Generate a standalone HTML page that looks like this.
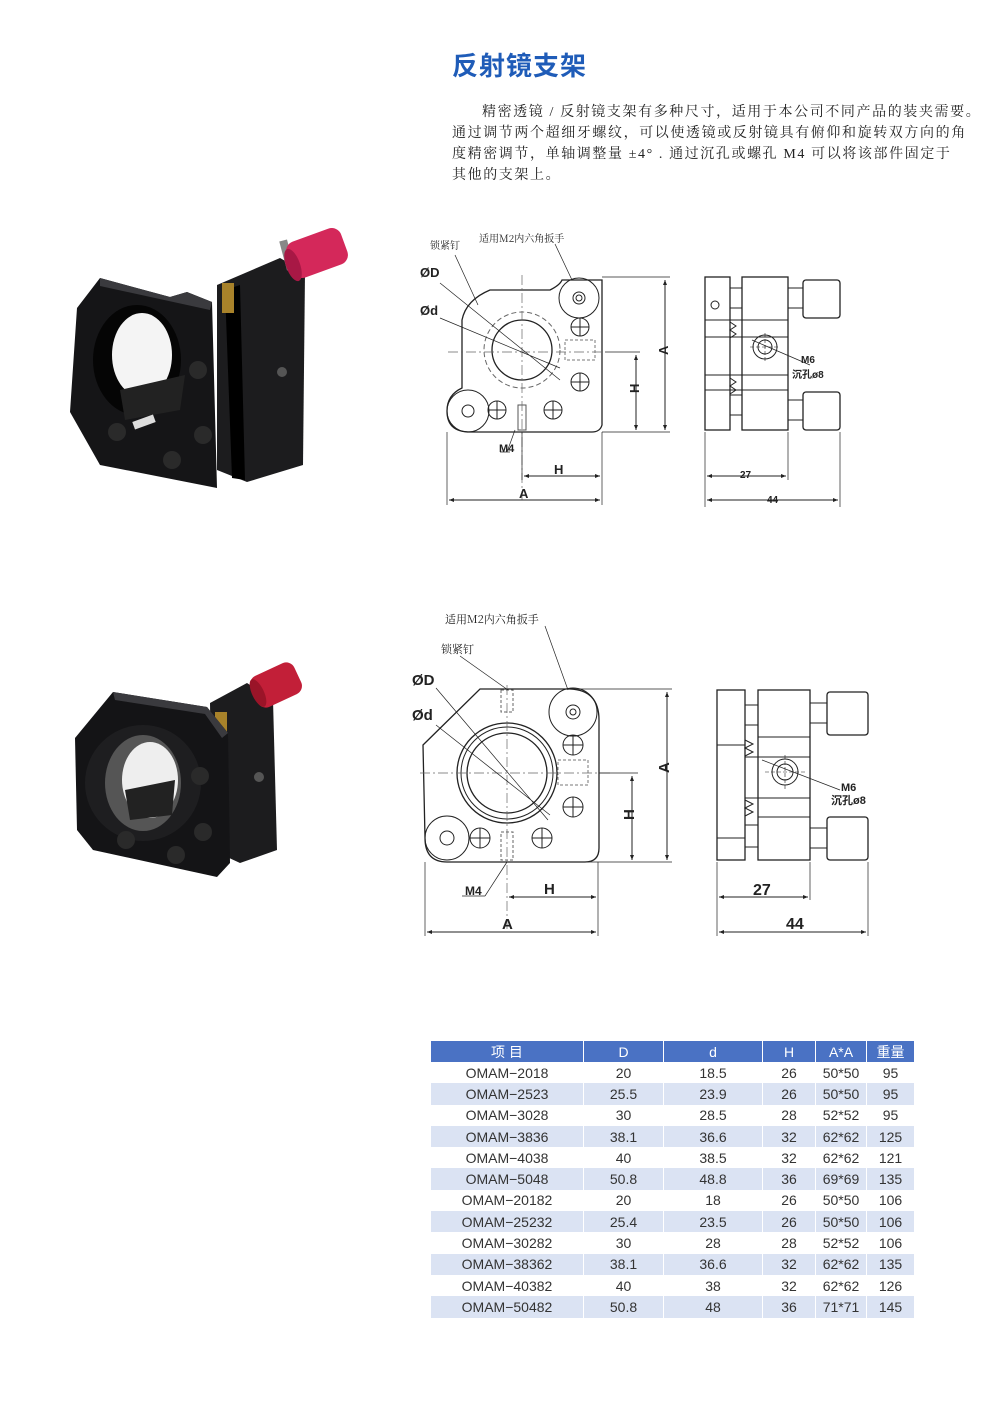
<!DOCTYPE html>
<html><head><meta charset="utf-8"><style>
html,body{margin:0;padding:0;background:#fff;}
body{width:1000px;height:1414px;position:relative;overflow:hidden;font-family:"Liberation Sans","Noto Sans CJK SC",sans-serif;}
.t{position:absolute;left:452px;top:46px;font-size:26px;font-weight:bold;color:#1f5cb8;font-family:"Liberation Sans","Noto Sans CJK SC",sans-serif;letter-spacing:1px;}
.p{position:absolute;left:452px;font-size:14px;color:#222;font-family:"Liberation Serif","Noto Serif CJK SC",serif;white-space:nowrap;letter-spacing:1.6px;}
table{position:absolute;left:430px;top:1041px;border-collapse:collapse;font-size:14px;color:#333;}
td{height:21.3px;padding:0;text-align:center;border-left:1px solid #fff;}
tr.h td{background:#4a72c4;color:#fff;height:21px;}
tr.b td{background:#dbe3f3;}
svg{position:absolute;left:0;top:0;}
</style></head><body>
<div class="t">反射镜支架</div>
<div class="p" style="top:101px;left:482px">精密透镜 / 反射镜支架有多种尺寸，适用于本公司不同产品的装夹需要。</div>
<div class="p" style="top:122px">通过调节两个超细牙螺纹，可以使透镜或反射镜具有俯仰和旋转双方向的角</div>
<div class="p" style="top:143px">度精密调节，单轴调整量 ±4° . 通过沉孔或螺孔 M4 可以将该部件固定于</div>
<div class="p" style="top:164px">其他的支架上。</div>

<svg width="1000" height="1414" viewBox="0 0 1000 1414">
<defs>
<marker id="ar" viewBox="0 0 10 10" refX="10" refY="5" markerWidth="7" markerHeight="5" orient="auto-start-reverse"><path d="M0,1L10,5L0,9z" fill="#222"/></marker>
</defs>
<!-- photo 1 -->
<g>
<polygon points="217,285 280,258 305,272 303,465 247,482 217,470" fill="#1c1c1e"/>
<polygon points="225,290 240,285 245,480 232,478" fill="#000"/>
<rect x="222" y="283" width="12" height="30" fill="#a8822a"/>
<rect x="283" y="240" width="8" height="30" fill="#888" transform="rotate(-15 287 255)"/>
<rect x="288" y="234" width="58" height="38" rx="10" fill="#d4285a" transform="rotate(-20 317 253)"/>
<ellipse cx="293" cy="265" rx="7" ry="17" fill="#a81845" transform="rotate(-20 293 265)"/>
<polygon points="100,278 170,297 187,292 212,302 217,488 100,465 70,412 77,308" fill="#151517"/>
<polygon points="100,278 170,297 187,292 212,302 210,310 100,286" fill="#3a3a3e"/>
<ellipse cx="137" cy="360" rx="44" ry="55" fill="#050505"/>
<ellipse cx="142" cy="355" rx="30" ry="42" fill="#f4f4f4"/>
<polygon points="120,390 185,375 180,410 125,420" fill="#222"/>
<rect x="133" y="418" width="22" height="8" fill="#ddd" transform="rotate(-20 144 422)"/>
<circle cx="198" cy="370" r="9" fill="#2a2a2a"/><circle cx="203" cy="435" r="9" fill="#2a2a2a"/>
<circle cx="117" cy="432" r="9" fill="#2a2a2a"/><circle cx="172" cy="460" r="9" fill="#2a2a2a"/>
<circle cx="282" cy="372" r="5" fill="#555"/>
</g>
<!-- photo 2 -->
<g>
<polygon points="210,703 247,683 273,700 277,850 240,863 212,850" fill="#1c1c1e"/>
<rect x="215" y="712" width="12" height="28" fill="#a8822a"/>
<rect x="252" y="668" width="48" height="34" rx="9" fill="#c21f38" transform="rotate(-25 276 685)"/>
<ellipse cx="258" cy="693" rx="6" ry="15" fill="#9a1428" transform="rotate(-25 258 693)"/>
<polygon points="75,738 113,692 207,707 228,733 230,863 217,877 93,850 77,830" fill="#141416"/>
<polygon points="113,692 207,707 228,733 222,738 205,714 115,700" fill="#3a3a3e"/>
<circle cx="143" cy="783" r="58" fill="#1e1e20"/>
<ellipse cx="143" cy="783" rx="38" ry="48" fill="#555"/>
<ellipse cx="150" cy="780" rx="28" ry="38" fill="#eee"/>
<polygon points="125,790 175,780 172,815 130,820" fill="#222"/>
<circle cx="200" cy="776" r="9" fill="#2a2a2a"/><circle cx="203" cy="832" r="9" fill="#2a2a2a"/>
<circle cx="126" cy="840" r="9" fill="#2a2a2a"/><circle cx="176" cy="855" r="9" fill="#2a2a2a"/>
<circle cx="259" cy="777" r="5" fill="#555"/>
</g>

<!-- drawing 1 -->
<g fill="none" stroke="#222" stroke-width="1" font-family="Liberation Sans, Noto Sans CJK SC, sans-serif">
<path d="M462,388 L462,320 Q466,300 490,290 L550,290 Q560,285 562,280 L602,280 L602,425 Q600,432 592,432 L470,432 Q447,432 447,411 Q447,395 462,388 Z" stroke-width="1.3"/>
<circle cx="579" cy="298" r="20"/><circle cx="579" cy="298" r="6"/><circle cx="579" cy="298" r="3"/>
<circle cx="468" cy="411" r="21"/><circle cx="468" cy="411" r="6"/>
<circle cx="522" cy="350" r="30" stroke-width="1.3"/>
<circle cx="522" cy="350" r="38" stroke-dasharray="5,3" stroke="#666"/>
<g stroke-width="1"><circle cx="580" cy="327" r="9"/><path d="M571,327h18M580,318v18"/>
<circle cx="580" cy="382" r="9"/><path d="M571,382h18M580,373v18"/>
<circle cx="497" cy="410" r="9"/><path d="M488,410h18M497,401v18"/>
<circle cx="553" cy="410" r="9"/><path d="M544,410h18M553,401v18"/></g>
<path d="M518,405 h8 v25 h-8z" stroke="#555"/>
<path d="M448,352 H605 M522,275 V500" stroke="#666" stroke-dasharray="10,3,2,3" stroke-width="0.7"/>
<path d="M565,340 h30 v20 h-30z" stroke="#777" stroke-dasharray="3,2"/>
<path d="M440,283 L560,380 M440,318 L560,368 M455,255 L478,305 M555,244 L572,280 M507,452 L515,430 M500,452 H510" stroke-width="0.7"/>
<path d="M602,277 H670 M602,432 H670 M605,352 H640" stroke-width="0.7"/>
<path d="M665,280 V430" marker-start="url(#ar)" marker-end="url(#ar)"/>
<path d="M636,355 V430" marker-start="url(#ar)" marker-end="url(#ar)"/>
<path d="M447,432 V505 M602,432 V505 M522,432 V480" stroke-width="0.7"/>
<path d="M524,476 H600" marker-start="url(#ar)" marker-end="url(#ar)"/>
<path d="M449,500 H600" marker-start="url(#ar)" marker-end="url(#ar)"/>
<rect x="705" y="277" width="25" height="153" stroke-width="1.3"/>
<rect x="742" y="277" width="46" height="153" stroke-width="1.3"/>
<path d="M705,320H788M705,337H788M705,375H788M705,390H788"/>
<rect x="730" y="288" width="12" height="20"/><rect x="730" y="395" width="12" height="20"/>
<rect x="788" y="288" width="15" height="20"/><rect x="788" y="400" width="15" height="20"/>
<rect x="803" y="280" width="37" height="38" rx="3" stroke-width="1.3"/><rect x="803" y="392" width="37" height="38" rx="3" stroke-width="1.3"/>
<circle cx="765" cy="347" r="12"/><circle cx="765" cy="347" r="7"/><circle cx="715" cy="305" r="4"/>
<path d="M730,322 l6,4 -6,4 6,4 -6,4 M730,378 l6,4 -6,4 6,4 -6,4"/>
<path d="M765,333 V362 M750,347 H780" stroke-width="0.6" stroke-dasharray="4,2"/>
<path d="M752,340 L810,365" stroke-width="0.7"/>
<path d="M705,432 V507 M788,432 V480 M840,432 V507" stroke-width="0.7"/>
<path d="M707,476 H786" marker-start="url(#ar)" marker-end="url(#ar)"/>
<path d="M707,500 H838" marker-start="url(#ar)" marker-end="url(#ar)"/>
<g stroke="none" fill="#222">
<text x="430" y="249" font-size="10" font-family="Noto Serif CJK SC,serif">锁紧钉</text>
<text x="479" y="242" font-size="10" font-family="Noto Serif CJK SC,serif">适用M2内六角扳手</text>
<text x="420" y="277" font-size="13" font-weight="bold">ØD</text>
<text x="420" y="315" font-size="13" font-weight="bold">Ød</text>
<text x="499" y="452" font-size="11" font-weight="bold">M4</text>
<text x="554" y="474" font-size="13" font-weight="bold">H</text>
<text x="519" y="498" font-size="13" font-weight="bold">A</text>
<text x="663" y="360" font-size="13" font-weight="bold" transform="rotate(-90 663 355)">A</text>
<text x="634" y="398" font-size="13" font-weight="bold" transform="rotate(-90 634 393)">H</text>
<text x="801" y="363" font-size="10" font-weight="bold">M6</text>
<text x="792" y="378" font-size="10" font-weight="bold">沉孔ø8</text>
<text x="740" y="478" font-size="10" font-weight="bold">27</text>
<text x="767" y="503" font-size="10" font-weight="bold">44</text>
</g>
</g>

<!-- drawing 2 -->
<g fill="none" stroke="#222" stroke-width="1" font-family="Liberation Sans, Noto Sans CJK SC, sans-serif">
<path d="M423,745 L480,689 L570,689 Q599,690 599,720 L599,848 Q599,862 585,862 L447,862 Q425,862 425,838 L423,745 Z" stroke-width="1.3"/>
<circle cx="573" cy="712" r="24"/><circle cx="573" cy="712" r="7"/><circle cx="573" cy="712" r="3"/>
<circle cx="447" cy="838" r="22"/><circle cx="447" cy="838" r="7"/>
<circle cx="507" cy="773" r="50" stroke-width="1.3"/><circle cx="507" cy="773" r="46"/>
<circle cx="507" cy="773" r="40" stroke-width="1.3"/>
<g><circle cx="573" cy="745" r="10"/><path d="M563,745h20M573,735v20"/>
<circle cx="573" cy="807" r="10"/><path d="M563,807h20M573,797v20"/>
<circle cx="480" cy="838" r="10"/><path d="M470,838h20M480,828v20"/>
<circle cx="542" cy="838" r="10"/><path d="M532,838h20M542,828v20"/></g>
<path d="M501,832 h12 v28 h-12z M501,690 h12 v22 h-12z" stroke="#666" stroke-dasharray="3,2"/>
<path d="M420,773 H612 M507,685 V930" stroke="#666" stroke-dasharray="10,3,2,3" stroke-width="0.7"/>
<path d="M558,760 h30 v25 h-30z" stroke="#777" stroke-dasharray="3,2"/>
<path d="M436,688 L548,820 M436,725 L550,815 M460,656 L508,690 M545,626 L568,690 M485,896 L507,862 M462,896 H485" stroke-width="0.7"/>
<path d="M570,689 H672 M585,862 H672 M599,773 H638" stroke-width="0.7"/>
<path d="M667,692 V860" marker-start="url(#ar)" marker-end="url(#ar)"/>
<path d="M632,776 V860" marker-start="url(#ar)" marker-end="url(#ar)"/>
<path d="M425,862 V936 M598,862 V936" stroke-width="0.7"/>
<path d="M509,897 H596" marker-start="url(#ar)" marker-end="url(#ar)"/>
<path d="M427,932 H596" marker-start="url(#ar)" marker-end="url(#ar)"/>
<rect x="717" y="690" width="28" height="170" stroke-width="1.3"/>
<rect x="758" y="690" width="52" height="170" stroke-width="1.3"/>
<path d="M717,745H745M758,737H810M745,757H810M745,798H810M758,817H810M717,838H745"/>
<rect x="745" y="705" width="13" height="20"/><rect x="745" y="825" width="13" height="22"/>
<rect x="810" y="703" width="17" height="20"/><rect x="810" y="828" width="17" height="20"/>
<rect x="827" y="692" width="41" height="43" rx="3" stroke-width="1.3"/><rect x="827" y="817" width="41" height="43" rx="3" stroke-width="1.3"/>
<circle cx="785" cy="772" r="13"/><circle cx="785" cy="772" r="8"/>
<path d="M745,740 l8,4 -8,4 8,4 -8,4 M745,800 l8,4 -8,4 8,4 -8,4"/>
<path d="M785,755 V790 M765,772 H805" stroke-width="0.6" stroke-dasharray="4,2"/>
<path d="M762,760 L840,790" stroke-width="0.7"/>
<path d="M717,862 V936 M810,862 V900 M868,862 V936" stroke-width="0.7"/>
<path d="M719,897 H808" marker-start="url(#ar)" marker-end="url(#ar)"/>
<path d="M719,932 H866" marker-start="url(#ar)" marker-end="url(#ar)"/>
<g stroke="none" fill="#222">
<text x="445" y="623" font-size="11" font-family="Noto Serif CJK SC,serif">适用M2内六角扳手</text>
<text x="441" y="653" font-size="11" font-family="Noto Serif CJK SC,serif">锁紧钉</text>
<text x="412" y="685" font-size="15" font-weight="bold">ØD</text>
<text x="412" y="720" font-size="15" font-weight="bold">Ød</text>
<text x="465" y="895" font-size="12" font-weight="bold">M4</text>
<text x="544" y="894" font-size="15" font-weight="bold">H</text>
<text x="502" y="929" font-size="15" font-weight="bold">A</text>
<text x="664" y="778" font-size="15" font-weight="bold" transform="rotate(-90 664 773)">A</text>
<text x="629" y="825" font-size="15" font-weight="bold" transform="rotate(-90 629 820)">H</text>
<text x="841" y="791" font-size="11" font-weight="bold">M6</text>
<text x="831" y="804" font-size="11" font-weight="bold">沉孔ø8</text>
<text x="753" y="895" font-size="16" font-weight="bold">27</text>
<text x="786" y="929" font-size="16" font-weight="bold">44</text>
</g>
</g>
</svg>

<table>
<tr class="h"><td style="width:152px">项 目</td><td style="width:79px">D</td><td style="width:98px">d</td><td style="width:52px">H</td><td style="width:50px">A*A</td><td style="width:47px">重量</td></tr>
<tr><td>OMAM−2018</td><td>20</td><td>18.5</td><td>26</td><td>50*50</td><td>95</td></tr>
<tr class="b"><td>OMAM−2523</td><td>25.5</td><td>23.9</td><td>26</td><td>50*50</td><td>95</td></tr>
<tr><td>OMAM−3028</td><td>30</td><td>28.5</td><td>28</td><td>52*52</td><td>95</td></tr>
<tr class="b"><td>OMAM−3836</td><td>38.1</td><td>36.6</td><td>32</td><td>62*62</td><td>125</td></tr>
<tr><td>OMAM−4038</td><td>40</td><td>38.5</td><td>32</td><td>62*62</td><td>121</td></tr>
<tr class="b"><td>OMAM−5048</td><td>50.8</td><td>48.8</td><td>36</td><td>69*69</td><td>135</td></tr>
<tr><td>OMAM−20182</td><td>20</td><td>18</td><td>26</td><td>50*50</td><td>106</td></tr>
<tr class="b"><td>OMAM−25232</td><td>25.4</td><td>23.5</td><td>26</td><td>50*50</td><td>106</td></tr>
<tr><td>OMAM−30282</td><td>30</td><td>28</td><td>28</td><td>52*52</td><td>106</td></tr>
<tr class="b"><td>OMAM−38362</td><td>38.1</td><td>36.6</td><td>32</td><td>62*62</td><td>135</td></tr>
<tr><td>OMAM−40382</td><td>40</td><td>38</td><td>32</td><td>62*62</td><td>126</td></tr>
<tr class="b"><td>OMAM−50482</td><td>50.8</td><td>48</td><td>36</td><td>71*71</td><td>145</td></tr>
</table>
</body></html>
